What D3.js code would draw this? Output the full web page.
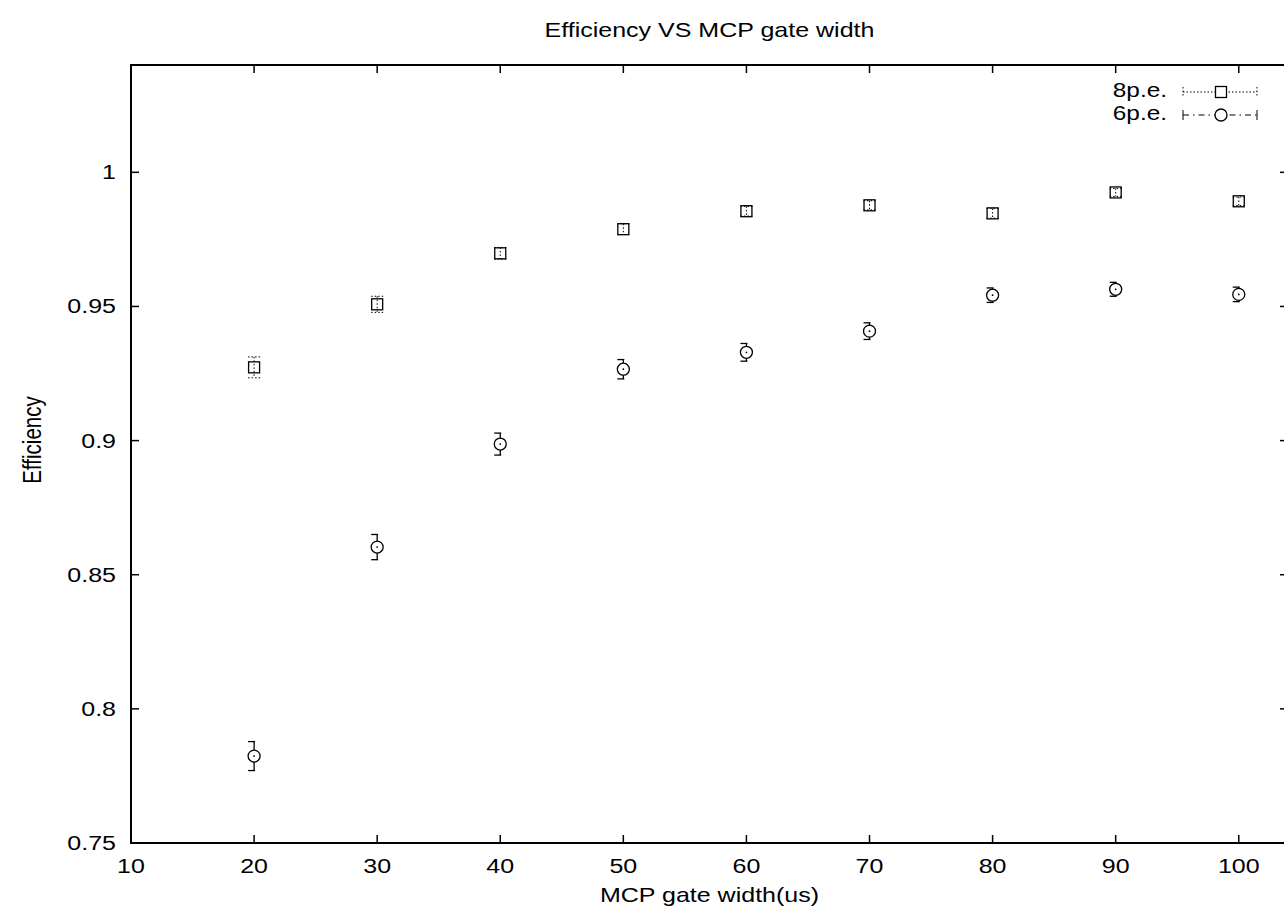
<!DOCTYPE html>
<html><head><meta charset="utf-8">
<script src="https://cdn.jsdelivr.net/npm/d3@7"></script>
<style>body{margin:0;background:#fff;} svg{display:block;} text{font-family:"Liberation Sans",Arial,sans-serif;}</style>
</head><body><svg id="c" width="1284" height="922"></svg>
<script>
const gateWidths = [20,30,40,50,60,70,80,90,100];
const eff8 = [0.9273,0.9508,0.9698,0.9788,0.9855,0.9877,0.9847,0.9925,0.9892];
const err8 = [0.0039,0.0030,0.0022,0.0020,0.0018,0.0017,0.0018,0.0015,0.0016];
const eff6 = [0.7824,0.8603,0.8987,0.9266,0.9329,0.9408,0.9542,0.9564,0.9545];
const err6 = [0.0054,0.0047,0.0041,0.0036,0.0033,0.0031,0.0027,0.0026,0.0027];
const xTicks = [10,20,30,40,50,60,70,80,90,100];
const yTicks = [0.75,0.8,0.85,0.9,0.95,1];
const seriesNames = ["8p.e.","6p.e."];

const svg = d3.select("#c");
const L=131, T=65, R=1288, B=843;
const x = d3.scaleLinear().domain([10,104]).range([L,R]);
const y = d3.scaleLinear().domain([0.75,1.04]).range([B,T]);
const fs = 20.5, sx = 1.22;

function txt(px, py, s, anchor, rot, size){
  return svg.append("text")
    .attr("transform", `translate(${px},${py}) scale(${sx},1)` + (rot ? ` rotate(${rot})` : ""))
    .attr("text-anchor", anchor).attr("font-size", size || fs).text(s);
}

svg.append("rect").attr("x",L).attr("y",T).attr("width",R-L).attr("height",B-T)
  .attr("fill","none").attr("stroke","#000").attr("stroke-width",2);

const tl = 8;
const tk = svg.append("g").attr("stroke","#000").attr("stroke-width",1.5);
xTicks.forEach(v=>{
  tk.append("line").attr("x1",x(v)).attr("x2",x(v)).attr("y1",B).attr("y2",B-tl);
  tk.append("line").attr("x1",x(v)).attr("x2",x(v)).attr("y1",T).attr("y2",T+tl);
});
yTicks.forEach(v=>{
  tk.append("line").attr("x1",L).attr("x2",L+tl).attr("y1",y(v)).attr("y2",y(v));
  tk.append("line").attr("x1",R).attr("x2",R-tl).attr("y1",y(v)).attr("y2",y(v));
});
xTicks.forEach(v=>txt(x(v), B+30, String(v), "middle"));
yTicks.forEach(v=>txt(L-15, y(v)+7, String(v), "end"));

txt((L+R)/2, 37, "Efficiency VS MCP gate width", "middle");
txt((L+R)/2, 902, "MCP gate width(us)", "middle");
txt(41, 440, "Efficiency", "middle", -90);

const g8 = svg.append("g");
gateWidths.forEach((w,i)=>{
  const cx=x(w), cy=y(eff8[i]), yt=y(eff8[i]+err8[i]), yb=y(eff8[i]-err8[i]);
  g8.append("line").attr("x1",cx).attr("x2",cx).attr("y1",yt).attr("y2",yb).attr("stroke","#000").attr("stroke-width",1).attr("stroke-dasharray","1.5,2");
  [yt,yb].forEach(yy=>g8.append("line").attr("x1",cx-6).attr("x2",cx+6).attr("y1",yy).attr("y2",yy).attr("stroke","#000").attr("stroke-width",1).attr("stroke-dasharray","1.5,2"));
  g8.append("rect").attr("x",cx-5.5).attr("y",cy-5.5).attr("width",11).attr("height",11).attr("fill","none").attr("stroke","#000").attr("stroke-width",1.3);
});
const g6 = svg.append("g");
gateWidths.forEach((w,i)=>{
  const cx=x(w), cy=y(eff6[i]), yt=y(eff6[i]+err6[i]), yb=y(eff6[i]-err6[i]);
  g6.append("line").attr("x1",cx).attr("x2",cx).attr("y1",yt).attr("y2",yb).attr("stroke","#000").attr("stroke-width",1.3);
  [yt,yb].forEach(yy=>g6.append("line").attr("x1",cx-6).attr("x2",cx+1).attr("y1",yy).attr("y2",yy).attr("stroke","#000").attr("stroke-width",1.3));
  g6.append("circle").attr("cx",cx).attr("cy",cy).attr("r",6).attr("fill","#fff").attr("stroke","#000").attr("stroke-width",1.3);
  g6.append("circle").attr("cx",cx).attr("cy",cy).attr("r",0.9).attr("fill","#000");
});

const lg = svg.append("g");
const lx1=1183, lx2=1257, lmid=1221;
[92,115].forEach((ly,k)=>{
  txt(1167, ly+5, seriesNames[k], "end", null, 20);
  const dash = k===0 ? "1.5,2" : "6,4,1.5,4";
  lg.append("line").attr("x1",lx1).attr("x2",lx2).attr("y1",ly).attr("y2",ly).attr("stroke","#000").attr("stroke-width",1).attr("stroke-dasharray",dash);
  [lx1,lx2].forEach(xx=>lg.append("line").attr("x1",xx).attr("x2",xx).attr("y1",ly-5).attr("y2",ly+5).attr("stroke","#000").attr("stroke-width",1).attr("stroke-dasharray",k===0?"1.5,2":null));
  if(k===0) lg.append("rect").attr("x",lmid-5.5).attr("y",ly-5.5).attr("width",11).attr("height",11).attr("fill","#fff").attr("stroke","#000").attr("stroke-width",1.3);
  else lg.append("circle").attr("cx",lmid).attr("cy",ly).attr("r",6).attr("fill","#fff").attr("stroke","#000").attr("stroke-width",1.3);
});
</script></body></html>
